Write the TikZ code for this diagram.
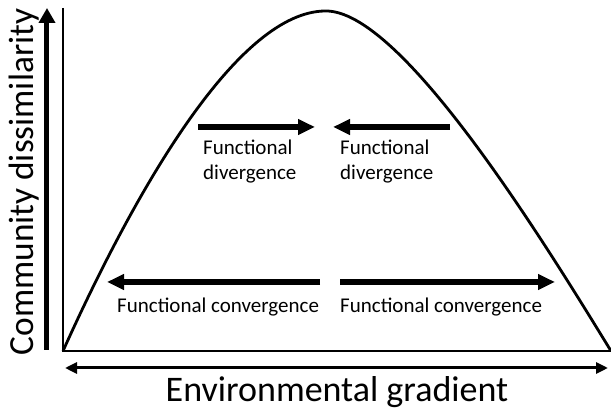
\documentclass[tikz,border=0pt]{standalone}
\usepackage{fontspec}
\setmainfont{Carlito}
\usetikzlibrary{arrows.meta,calc}

\begin{document}
\begin{tikzpicture}[x=1pt,y=1pt,
  bigarrow/.style={line width=5.5pt,-{Triangle[length=17pt,width=15pt]}},
  smalltext/.style={font=\fontsize{21}{25}\selectfont,inner sep=0pt},
  bigtext/.style={font=\fontsize{36}{42}\selectfont,inner sep=0pt}]
  \useasboundingbox (-63,-60) rectangle (548,351);
  \coordinate (O) at (0,0);
  \coordinate (P) at (262,340);
  \coordinate (E) at (548,0);
  \draw[line width=1.8pt] (0,343) -- (O) -- (E);
  \draw[line width=2.8pt] (O) .. controls (77,171) and (177,339) .. (P)
    .. controls (337,342) and (477,116) .. (E);
  \draw[line width=5pt,-{Triangle[length=15pt,width=16pt]}] (-16,1) -- (-16,343);
  \draw[line width=3pt,{Triangle[length=12pt,width=11pt]}-{Triangle[length=12pt,width=11pt]}]
    (2,-17) -- (545,-17);
  \draw[bigarrow] (135,224) -- (252,224);
  \draw[bigarrow] (387,224) -- (270,224);
  \draw[bigarrow] (257,69) -- (44,69);
  \draw[bigarrow] (277,69) -- (492,69);
  \node[smalltext,anchor=base west,align=left] (divL) at (140,171) {Functional\\divergence};
  \node[smalltext,anchor=base west,align=left] (divR) at (277,171) {Functional\\divergence};
  \node[smalltext,anchor=base west] (convL) at (54,38) {Functional convergence};
  \node[smalltext,anchor=base west] (convR) at (277,38) {Functional convergence};
  \node[bigtext,anchor=base] (xlab) at (274,-51) {Environmental gradient};
  \node[bigtext,font=\fontsize{35.3}{42}\selectfont,anchor=base,rotate=90] (ylab) at (-30,169) {Community dissimilarity};
\end{tikzpicture}
\end{document}
